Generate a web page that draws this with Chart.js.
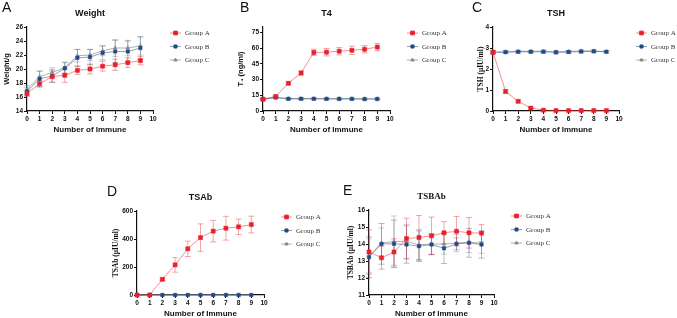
<!DOCTYPE html>
<html>
<head>
<meta charset="utf-8">
<script src="https://cdn.jsdelivr.net/npm/chart.js@4"></script>
<style>
html, body { margin: 0; padding: 0; background: #fff; }
#wrap { position: relative; width: 677px; height: 318px; }
#wrap canvas { position: absolute; left: 0; top: 0; }
</style>
</head>
<body>
<div id="wrap">
  <canvas id="chartA" width="677" height="318"></canvas>
  <canvas id="chartB" width="677" height="318"></canvas>
  <canvas id="chartC" width="677" height="318"></canvas>
  <canvas id="chartD" width="677" height="318"></canvas>
  <canvas id="chartE" width="677" height="318"></canvas>
</div>
<script>
// data (mean and error per immunisation)
var immune = [0, 1, 2, 3, 4, 5, 6, 7, 8, 9];
var groupNames = ["Group A", "Group B", "Group C"];
var xTicks = [0, 1, 2, 3, 4, 5, 6, 7, 8, 9, 10];

var weightA = [16.5, 17.9, 18.9, 19.1, 19.8, 20.0, 20.4, 20.6, 20.9, 21.2];
var weightAErr = [0.4, 0.5, 0.8, 1.0, 0.6, 0.7, 0.7, 0.8, 0.7, 0.6];
var weightB = [16.8, 18.6, 19.0, 20.1, 21.6, 21.7, 22.3, 22.5, 22.5, 23.0];
var weightBErr = [0.5, 1.1, 0.9, 0.8, 1.2, 1.1, 1.0, 1.6, 1.5, 1.6];
var weightC = [17.1, 18.9, 19.5, 20.2, 21.9, 22.0, 22.6, 23.0, 23.0, 23.3];
var weightCErr = [0.5, 0.8, 0.7, 0.8, 0.9, 0.8, 0.7, 1.2, 1.1, 1.3];
var weightTicks = [14, 16, 18, 20, 22, 24, 26];

var t4A = [11.2, 13.8, 26.4, 36.2, 55.8, 56.0, 56.9, 57.8, 58.8, 60.9];
var t4AErr = [1.0, 1.2, 1.2, 2.0, 3.0, 3.5, 3.5, 4.0, 3.5, 3.5];
var t4B = [11.2, 12.8, 11.6, 11.6, 11.6, 11.5, 11.5, 11.5, 11.3, 11.4];
var t4BErr = [0.8, 0.8, 0.8, 0.8, 0.8, 0.8, 0.8, 0.8, 0.8, 0.8];
var t4C = [11.4, 13.0, 11.8, 11.8, 11.8, 11.7, 11.7, 11.7, 11.6, 11.6];
var t4CErr = [0.7, 0.7, 0.7, 0.7, 0.7, 0.7, 0.7, 0.7, 0.7, 0.7];
var t4Ticks = [0, 15, 30, 45, 60, 75];

var tshA = [2.80, 0.93, 0.46, 0.14, 0.04, 0.02, 0.02, 0.02, 0.02, 0.02];
var tshAErr = [0.08, 0.08, 0.05, 0.03, 0.02, 0.01, 0.01, 0.01, 0.01, 0.01];
var tshB = [2.79, 2.80, 2.82, 2.82, 2.82, 2.79, 2.81, 2.83, 2.84, 2.82];
var tshBErr = [0.06, 0.06, 0.06, 0.06, 0.06, 0.06, 0.06, 0.06, 0.06, 0.06];
var tshC = [2.81, 2.82, 2.84, 2.84, 2.85, 2.82, 2.83, 2.86, 2.86, 2.83];
var tshCErr = [0.05, 0.05, 0.05, 0.05, 0.05, 0.05, 0.05, 0.05, 0.05, 0.05];
var tshTicks = [0, 1, 2, 3, 4];

var tsabA = [0, 0, 112, 215, 330, 410, 456, 477, 487, 503];
var tsabAErr = [0, 0, 8, 52, 55, 98, 77, 85, 55, 60];
var tsabB = [0, 0, 0, 0, 0, 0, 0, 0, 0, 0];
var tsabBErr = [0, 0, 0, 0, 0, 0, 0, 0, 0, 0];
var tsabC = [0, 0, 0, 0, 0, 0, 0, 0, 0, 0];
var tsabCErr = [0, 0, 0, 0, 0, 0, 0, 0, 0, 0];
var tsabTicks = [0, 200, 400, 600];

var tsbabA = [13.53, 13.19, 13.53, 14.32, 14.38, 14.48, 14.66, 14.75, 14.66, 14.64];
var tsbabAErr = [1.3, 0.67, 0.78, 1.2, 1.3, 1.1, 0.65, 0.87, 0.9, 0.5];
var tsbabB = [13.22, 14.01, 14.01, 13.97, 13.87, 13.97, 13.75, 14.01, 14.07, 13.97];
var tsbabBErr = [1.2, 1.2, 1.4, 1.1, 0.9, 0.6, 0.9, 0.35, 0.85, 0.8];
var tsbabC = [13.3, 14.05, 14.15, 14.15, 13.95, 14.0, 14.0, 14.05, 14.1, 14.05];
var tsbabCErr = [1.0, 0.9, 1.5, 1.0, 0.9, 0.6, 0.6, 0.5, 0.6, 0.6];
var tsbabTicks = [11, 12, 13, 14, 15, 16];

var SANS = "'Liberation Sans', Arial, sans-serif";
var SERIF = "'Liberation Serif', 'Times New Roman', serif";

// look of the three groups
var groupStyle = [
    { line: "rgba(232,32,40,0.5)", point: "#e8202a", err: "rgba(232,32,40,0.4)", shape: "rect", r: 2.9 },
    { line: "rgba(30,70,130,0.5)", point: "#1f4a86", err: "rgba(30,70,130,0.35)", shape: "rect", r: 2.4 },
    { line: "#b0b0b0", point: "#8a8a8a", err: "rgba(120,120,120,0.35)", shape: "triangle", r: 2.2 }
];

function points(vals) {
    return vals.map(function (v, i) { return { x: immune[i], y: v }; });
}

function makeDatasets(series, errs) {
    return series.map(function (vals, k) {
        var s = groupStyle[k];
        return {
            label: groupNames[k],
            data: points(vals),
            errors: errs[k],
            errColor: s.err,
            borderColor: s.line,
            borderWidth: 1,
            pointStyle: s.shape,
            pointRadius: s.r,
            pointBackgroundColor: s.point,
            pointBorderColor: s.point,
            pointBorderWidth: 0.5,
            clip: false,
            tension: 0
        };
    });
}

// error bars, drawn under the lines/markers
var errorBars = {
    id: "errorBars",
    beforeDatasetsDraw: function (chart) {
        var ctx = chart.ctx;
        var ys = chart.scales.y;
        for (var i = chart.data.datasets.length - 1; i >= 0; i--) {
            var ds = chart.data.datasets[i];
            var meta = chart.getDatasetMeta(i);
            ctx.save();
            ctx.strokeStyle = ds.errColor;
            ctx.lineWidth = 1;
            meta.data.forEach(function (pt, j) {
                var e = ds.errors[j];
                if (!e) return;
                var v = ds.data[j].y;
                var top = ys.getPixelForValue(v + e);
                var bot = ys.getPixelForValue(v - e);
                ctx.beginPath();
                ctx.moveTo(pt.x, top); ctx.lineTo(pt.x, bot);
                ctx.moveTo(pt.x - 3, top); ctx.lineTo(pt.x + 3, top);
                ctx.moveTo(pt.x - 3, bot); ctx.lineTo(pt.x + 3, bot);
                ctx.stroke();
            });
            ctx.restore();
        }
    }
};

// panel letter, title and a GraphPad-like legend
var panelDecor = {
    id: "panelDecor",
    afterDraw: function (chart, args, opts) {
        var ctx = chart.ctx;
        var a = chart.chartArea;
        ctx.save();
        ctx.fillStyle = "#111";
        ctx.font = "14px " + SANS;
        ctx.textBaseline = "alphabetic";
        ctx.textAlign = "left";
        ctx.fillText(opts.letter, opts.letterX, opts.letterY);

        ctx.font = "bold 9px " + opts.titleFamily;
        ctx.textAlign = "center";
        ctx.textBaseline = "middle";
        ctx.fillText(opts.title, (a.left + a.right) / 2, opts.titleY);

        ctx.font = "7px " + SERIF;
        ctx.textAlign = "left";
        chart.data.datasets.forEach(function (ds, k) {
            var y = opts.legendTop + 13.5 * k;
            var x0 = a.right + 17;
            ctx.strokeStyle = ds.borderColor;
            ctx.lineWidth = 1;
            ctx.beginPath();
            ctx.moveTo(x0, y); ctx.lineTo(x0 + 11, y);
            ctx.stroke();
            ctx.fillStyle = ds.pointBackgroundColor;
            ctx.strokeStyle = ds.pointBorderColor;
            Chart.helpers.drawPoint(ctx, { pointStyle: ds.pointStyle, radius: ds.pointRadius * 0.9, rotation: 0, borderWidth: 0.5 }, x0 + 5.5, y);
            ctx.fillStyle = "#333";
            ctx.fillText(ds.label, a.right + 32, y + 0.5);
        });
        ctx.restore();
    }
};

function makePanel(id, g, series, errs, yTicks, yMin, yMax, yTitle, yTitleFamily, title, titleFamily, letter) {
    var padLeft = g.yTitleX - 3.75;
    new Chart(document.getElementById(id), {
        type: "line",
        data: { datasets: makeDatasets(series, errs) },
        plugins: [errorBars, panelDecor],
        options: {
            responsive: false,
            animation: false,
            events: [],
            devicePixelRatio: 1,
            layout: { padding: { left: padLeft, top: g.T, right: 677 - g.R, bottom: 318 - g.B - 23 } },
            plugins: {
                legend: { display: false },
                tooltip: { enabled: false },
                panelDecor: {
                    letter: letter, letterX: g.letterX, letterY: g.T - 15,
                    title: title, titleFamily: titleFamily, titleY: g.T - 13.5,
                    legendTop: g.T + 6
                }
            },
            scales: {
                x: {
                    type: "linear", min: 0, max: 10,
                    afterBuildTicks: function (s) { s.ticks = xTicks.map(function (v) { return { value: v }; }); },
                    afterFit: function (s) { s.height = 23; },
                    ticks: { autoSkip: false, maxRotation: 0, padding: 1, color: "#111", font: { family: SANS, size: 6.5, weight: "bold" } },
                    grid: { drawOnChartArea: false, tickLength: 3, tickColor: "#111", tickWidth: 1 },
                    border: { color: "#111", width: 1.2 },
                    title: { display: true, text: "Number of Immune", color: "#111", padding: 0, font: { family: SANS, size: 8, weight: "bold", lineHeight: 1 } }
                },
                y: {
                    type: "linear", min: yMin, max: yMax,
                    afterBuildTicks: function (s) { s.ticks = yTicks.map(function (v) { return { value: v }; }); },
                    afterFit: function (s) { s.width = g.L - padLeft; },
                    ticks: { autoSkip: false, padding: 1, color: "#111", font: { family: SANS, size: 6.5, weight: "bold" } },
                    grid: { drawOnChartArea: false, tickLength: 3, tickColor: "#111", tickWidth: 1 },
                    border: { color: "#111", width: 1.2 },
                    title: { display: true, text: yTitle, color: "#111", padding: 0, font: { family: yTitleFamily, size: 7.5, weight: "bold", lineHeight: 1 } }
                }
            }
        }
    });
}

makePanel("chartA", { L: 27, T: 27, R: 153, B: 111, yTitleX: 7, letterX: 2 },
    [weightA, weightB, weightC], [weightAErr, weightBErr, weightCErr],
    weightTicks, 14, 26, "Weight/g", SANS, "Weight", SANS, "A");

makePanel("chartB", { L: 263, T: 27, R: 390, B: 111, yTitleX: 241, letterX: 240 },
    [t4A, t4B, t4C], [t4AErr, t4BErr, t4CErr],
    t4Ticks, 0, 80, "T\u2084 (ng/ml)", SANS, "T4", SANS, "B");

makePanel("chartC", { L: 493, T: 27, R: 619, B: 111, yTitleX: 481, letterX: 472 },
    [tshA, tshB, tshC], [tshAErr, tshBErr, tshCErr],
    tshTicks, 0, 4, "TSH (\u03bcIU/ml)", SERIF, "TSH", SANS, "C");

makePanel("chartD", { L: 137, T: 211, R: 264, B: 295, yTitleX: 116, letterX: 107 },
    [tsabA, tsabB, tsabC], [tsabAErr, tsabBErr, tsabCErr],
    tsabTicks, 0, 600, "TSAb (\u03bcIU/ml)", SERIF, "TSAb", SANS, "D");

makePanel("chartE", { L: 369, T: 210, R: 494, B: 295, yTitleX: 351, letterX: 343 },
    [tsbabA, tsbabB, tsbabC], [tsbabAErr, tsbabBErr, tsbabCErr],
    tsbabTicks, 11, 16, "TSBAb (\u03bcIU/ml)", SERIF, "TSBAb", SERIF, "E");
</script>
</body>
</html>
